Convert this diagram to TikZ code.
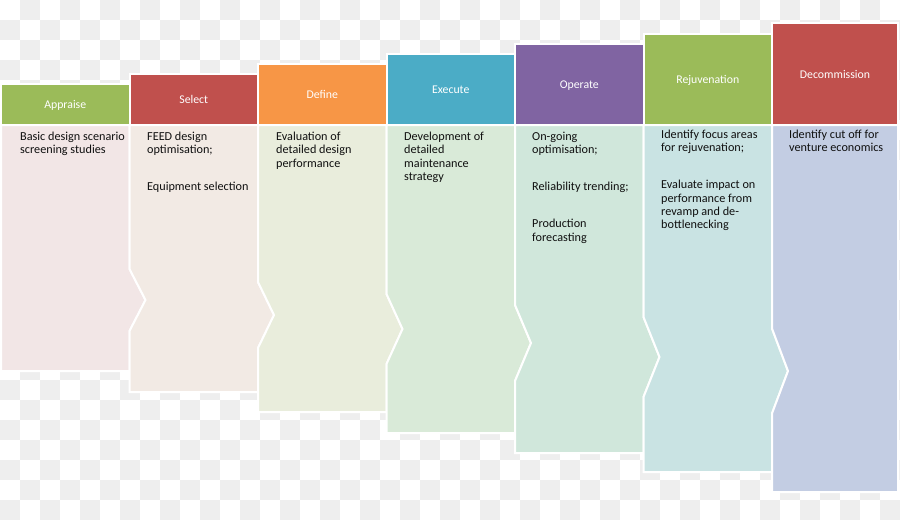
\documentclass[tikz,border=0pt]{standalone}
\usepackage{fontspec}
\setmainfont{Carlito}
\definecolor{chk}{HTML}{EEEEEE}
\definecolor{hgreen}{HTML}{9BBB59}
\definecolor{hred}{HTML}{C0504D}
\definecolor{horange}{HTML}{F79646}
\definecolor{hblue}{HTML}{4BACC6}
\definecolor{hpurple}{HTML}{8064A2}
\definecolor{bA}{HTML}{F2E6E6}
\definecolor{bS}{HTML}{F2EAE4}
\definecolor{bD}{HTML}{E9EDDC}
\definecolor{bE}{HTML}{D9EAD8}
\definecolor{bO}{HTML}{D0E7DB}
\definecolor{bR}{HTML}{C9E3E3}
\definecolor{bC}{HTML}{C3CDE3}
\definecolor{txt}{HTML}{101010}
\begin{document}
\begin{tikzpicture}[x=1pt,y=-1pt,
  hdr/.style={draw=white,line width=2pt},
  bodyshape/.style={draw=white,line width=2pt,line join=miter},
  hlabel/.style={anchor=base,text=white,inner sep=0pt,font=\fontsize{11.8}{13.4}\selectfont},
  btext/.style={anchor=north west,align=left,inner sep=0pt,text=txt,font=\fontsize{12.2}{13.4}\selectfont}]
\useasboundingbox (0,0) rectangle (900,520);
% checkerboard background
\foreach \j in {0,2,...,24} {\foreach \i in {1,3,...,43} {\fill[chk] (\i*20,\j*20) rectangle ++(20,20);}}
\foreach \j in {1,3,...,25} {\foreach \i in {0,2,...,44} {\fill[chk] (\i*20,\j*20) rectangle ++(20,20);}}
% body panels
\path[bodyshape,fill=bA] (1,125) -- (129.5,125) -- (129.5,269) -- (145.5,300) -- (129.5,331) -- (129.5,371) -- (1,371) -- cycle;
\path[bodyshape,fill=bS] (129.5,125) -- (258,125) -- (258,282) -- (274,315) -- (258,348) -- (258,392) -- (129.5,392) -- (129.5,331) -- (145.5,300) -- (129.5,269) -- cycle;
\path[bodyshape,fill=bD] (258,125) -- (386.5,125) -- (386.5,294) -- (402.5,329) -- (386.5,364) -- (386.5,412) -- (258,412) -- (258,348) -- (274,315) -- (258,282) -- cycle;
\path[bodyshape,fill=bE] (386.5,125) -- (515,125) -- (515,305) -- (531,343) -- (515,381) -- (515,433) -- (386.5,433) -- (386.5,364) -- (402.5,329) -- (386.5,294) -- cycle;
\path[bodyshape,fill=bO] (515,125) -- (643.5,125) -- (643.5,317) -- (659.5,357) -- (643.5,397) -- (643.5,453) -- (515,453) -- (515,381) -- (531,343) -- (515,305) -- cycle;
\path[bodyshape,fill=bR] (643.5,125) -- (772,125) -- (772,328.5) -- (788,371) -- (772,413.5) -- (772,472) -- (643.5,472) -- (643.5,397) -- (659.5,357) -- (643.5,317) -- cycle;
\path[bodyshape,fill=bC] (772,125) -- (898,125) -- (898,492) -- (772,492) -- (772,413.5) -- (788,371) -- (772,328.5) -- cycle;
% headers
\path[hdr,fill=hgreen] (1,84) rectangle (129.5,125);
\path[hdr,fill=hred] (129.5,74) rectangle (258,125);
\path[hdr,fill=horange] (258,64) rectangle (386.5,125);
\path[hdr,fill=hblue] (386.5,54) rectangle (515,125);
\path[hdr,fill=hpurple] (515,43.5) rectangle (643.5,125);
\path[hdr,fill=hgreen] (643.5,33.5) rectangle (772,125);
\path[hdr,fill=hred] (772,23) rectangle (898,125);
% header labels
\node[hlabel] (lA) at (65.25,108.5) {Appraise};
\node[hlabel] (lS) at (193.75,103.5) {Select};
\node[hlabel] (lD) at (322.25,98.5) {Define};
\node[hlabel] (lE) at (450.75,93.5) {Execute};
\node[hlabel] (lO) at (579.25,88.2) {Operate};
\node[hlabel] (lR) at (707.75,83.2) {Rejuvenation};
\node[hlabel] (lC) at (835,78) {Decommission};
% body texts
\node[btext] (tA) at (20,131) {\rule{0pt}{9pt}Basic design scenario\\screening studies};
\node[btext] (tS) at (147,131) {\rule{0pt}{9pt}FEED design\\optimisation;\\[23.6pt]Equipment selection};
\node[btext] (tD) at (276,131) {\rule{0pt}{9pt}Evaluation of\\detailed design\\performance};
\node[btext] (tE) at (404,131) {\rule{0pt}{9pt}Development of\\detailed\\maintenance\\strategy};
\node[btext] (tO) at (532,131) {\rule{0pt}{9pt}On-going\\optimisation;\\[23.6pt]Reliability trending;\\[23.6pt]Production\\forecasting};
\node[btext] (tR) at (661,129) {\rule{0pt}{9pt}Identify focus areas\\for rejuvenation;\\[23.6pt]Evaluate impact on\\performance from\\revamp and de-\\bottlenecking};
\node[btext] (tC) at (789,129) {\rule{0pt}{9pt}Identify cut off for\\venture economics};
\end{tikzpicture}
\end{document}
